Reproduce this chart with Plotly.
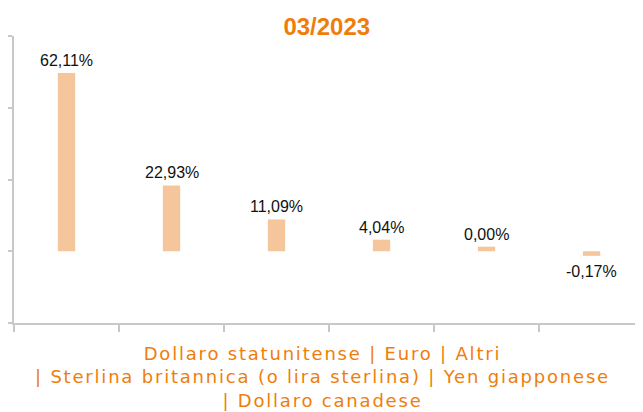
import plotly.graph_objects as go

categories = ["Dollaro statunitense", "Euro", "Altri",
              "Sterlina britannica (o lira sterlina)", "Yen giapponese",
              "Dollaro canadese"]
values = [62.11, 22.93, 11.09, 4.04, 0.00, -0.17]
labels = ["62,11%", "22,93%", "11,09%", "4,04%", "0,00%", "-0,17%"]
title_text = "03/2023"

MIN_VISIBLE = 1.6  # minimum drawn bar length so tiny values stay visible
x_pos = list(range(len(categories)))
drawn = [(v if abs(v) >= MIN_VISIBLE else (MIN_VISIBLE if v >= 0 else -MIN_VISIBLE)) for v in values]

BAR = "#F5C69B"
AXIS = "#C8C8C8"
ORANGE = "#F07D0A"

fig = go.Figure()
fig.add_trace(go.Bar(x=x_pos, y=drawn, width=0.165, marker=dict(color=BAR, line=dict(width=0)),
                     hoverinfo="skip", customdata=categories))

for xi, d, lab in zip(x_pos, drawn, labels):
    fig.add_annotation(x=xi, y=d, text=lab, showarrow=False,
                       yanchor="bottom" if d >= 0 else "top",
                       yshift=2 if d >= 0 else -5,
                       font=dict(family="Liberation Sans, Arial, sans-serif", size=16, color="#111111"))

SP = '<span style="letter-spacing:1.8px">'
legend_lines = [" | ".join(categories[:3]),
                "| " + " | ".join(categories[3:5]),
                "| " + categories[5]]
legend_text = "<br>".join(SP + line + "</span>" for line in legend_lines)
fig.add_annotation(xref="paper", yref="paper", x=0.491, y=-0.066, yanchor="top",
                   text=legend_text, showarrow=False, align="center", borderpad=0,
                   font=dict(family="DejaVu Sans, Verdana, sans-serif", size=18, color=ORANGE))

fig.update_layout(
    width=635, height=404,
    margin=dict(l=6, r=0, t=28, b=89),
    paper_bgcolor="white", plot_bgcolor="white",
    showlegend=False,
    title=dict(text="<b>" + title_text + "</b>", x=0.502, xanchor="center", y=0.955, yanchor="middle",
               font=dict(family="Liberation Sans, Arial, sans-serif", size=24, color=ORANGE)),
    xaxis=dict(range=[-0.5, 5.49], tickmode="array", tickvals=[i - 0.5 for i in range(7)],
               showticklabels=False, ticks="outside", ticklen=7, tickwidth=2, tickcolor=AXIS,
               showline=True, linecolor=AXIS, linewidth=2, showgrid=False, zeroline=False),
    yaxis=dict(range=[-25, 75], tickmode="array", tickvals=[-25, 0, 25, 50, 75],
               showticklabels=False, ticks="outside", ticklen=6, tickwidth=2, tickcolor=AXIS,
               showline=True, linecolor=AXIS, linewidth=2, showgrid=False, zeroline=False),
)

fig.write_html("out.html")
